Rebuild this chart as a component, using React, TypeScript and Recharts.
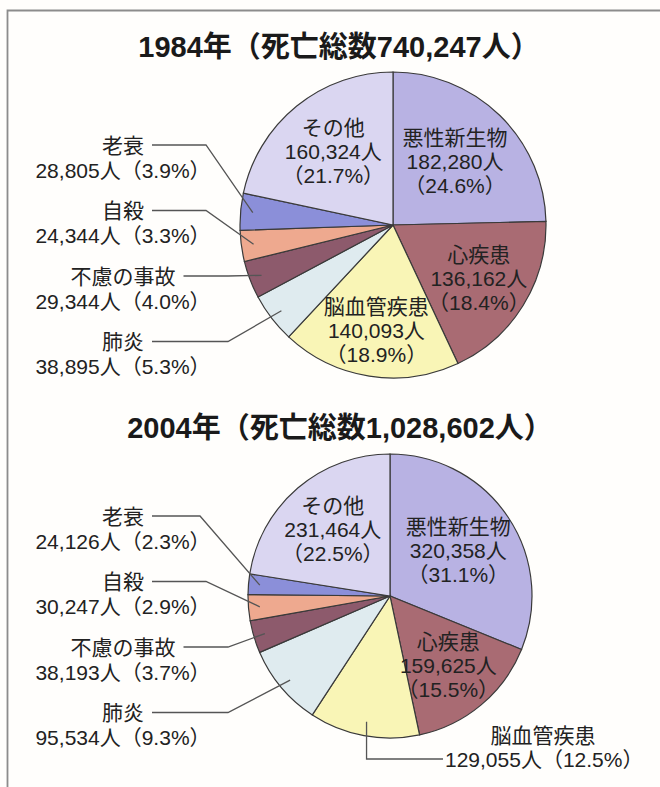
import React from 'react';
import { PieChart, Pie, Cell } from 'recharts';

const causes = ['悪性新生物', '心疾患', '脳血管疾患', '肺炎', '不慮の事故', '自殺', '老衰', 'その他'];
const deaths1984 = [182280, 136162, 140093, 38895, 29344, 24344, 28805, 160324];
const pct1984 = ['24.6', '18.4', '18.9', '5.3', '4.0', '3.3', '3.9', '21.7'];
const deaths2004 = [320358, 159625, 129055, 95534, 38193, 30247, 24126, 231464];
const pct2004 = ['31.1', '15.5', '12.5', '9.3', '3.7', '2.9', '2.3', '22.5'];
const titles = ['1984年（死亡総数740,247人）', '2004年（死亡総数1,028,602人）'];

const colors = ['#b8b2e3', '#a96b73', '#f9f5b6', '#dfebef', '#8d5a6c', '#eea98f', '#8b8fd9', '#dad6f1'];

// label layout per slice: inside (radius fraction) / left column (row) / bottom
type Mode = { kind: 'in'; f: number } | { kind: 'left'; row: number; elbow: number } | { kind: 'bottom' };
const modes1984: Mode[] = [
  { kind: 'in', f: 0.58 },
  { kind: 'in', f: 0.66 },
  { kind: 'in', f: 0.7 },
  { kind: 'left', row: 3, elbow: 228 },
  { kind: 'left', row: 2, elbow: 228 },
  { kind: 'left', row: 1, elbow: 206 },
  { kind: 'left', row: 0, elbow: 206 },
  { kind: 'in', f: 0.62 },
];
const modes2004: Mode[] = [
  { kind: 'in', f: 0.58 },
  { kind: 'in', f: 0.64 },
  { kind: 'bottom' },
  { kind: 'left', row: 3, elbow: 228 },
  { kind: 'left', row: 2, elbow: 228 },
  { kind: 'left', row: 1, elbow: 206 },
  { kind: 'left', row: 0, elbow: 200 },
  { kind: 'in', f: 0.62 },
];

const build = (vals: number[], pcts: string[]) =>
  causes.map((name, i) => ({ name, value: vals[i], pct: pcts[i] }));
const data1984 = build(deaths1984, pct1984);
const data2004 = build(deaths2004, pct2004);

const FONT = '"Liberation Sans", "Noto Sans CJK JP", sans-serif';
const FS = 21;
const RAD = Math.PI / 180;
const polar = (cx: number, cy: number, r: number, a: number) => [
  cx + r * Math.cos(-a * RAD),
  cy + r * Math.sin(-a * RAD),
];
const fmt = (v: number) => v.toLocaleString('en-US');
const LINE = '#555';

const makeLabel = (modes: Mode[]) => (props: any) => {
  const { cx, cy, midAngle, outerRadius, index, payload } = props;
  const m = modes[index];
  const d = payload && payload.name ? payload : props;
  const name = d.name;
  const value = d.value;
  const pct = d.pct;
  const tStyle: any = { fontFamily: FONT, fontSize: FS, fill: '#222' };
  if (m.kind === 'in') {
    const [x, y] = polar(cx, cy, outerRadius * m.f, midAngle);
    return (
      <g>
        <text x={x} y={y - 24} textAnchor="middle" dominantBaseline="central" style={tStyle}>{name}</text>
        <text x={x} y={y} textAnchor="middle" dominantBaseline="central" style={tStyle}>{fmt(value)}人</text>
        <text x={x} y={y + 24} textAnchor="middle" dominantBaseline="central" style={tStyle}>（{pct}%）</text>
      </g>
    );
  }
  if (m.kind === 'left') {
    const colX = 123;
    const ny = cy - 80 + 65.5 * m.row;
    const [ax, ay] = polar(cx, cy, outerRadius * 0.92, midAngle);
    const sx = colX + (name.length * FS) / 2 + 8;
    const ex = Math.min(m.elbow, ax);
    return (
      <g>
        <text x={colX} y={ny} textAnchor="middle" dominantBaseline="central" style={tStyle}>{name}</text>
        <text x={colX} y={ny + 25} textAnchor="middle" dominantBaseline="central" style={tStyle}>{fmt(value)}人（{pct}%）</text>
        <polyline points={`${sx},${ny} ${ex},${ny} ${ax},${ay}`} fill="none" stroke={LINE} strokeWidth={1.3} />
      </g>
    );
  }
  const [ax, ay] = polar(cx, cy, outerRadius * 0.9, midAngle);
  const vy = cy + 163;
  return (
    <g>
      <polyline points={`${ax},${ay} ${ax},${vy} ${cx + 53},${vy}`} fill="none" stroke={LINE} strokeWidth={1.3} />
      <text x={cx + 153} y={cy + 139} textAnchor="middle" dominantBaseline="central" style={tStyle}>{name}</text>
      <text x={cx + 55} y={vy} textAnchor="start" dominantBaseline="central" style={tStyle}>{fmt(value)}人（{pct}%）</text>
    </g>
  );
};

export default function App() {
  const titleStyle: any = { fontFamily: FONT, fontSize: 29, fontWeight: 700, fill: '#1a1a1a' };
  return (
    <div style={{ position: 'absolute', left: 0, top: 0, width: 660, height: 787, background: '#fffefc', overflow: 'hidden' }}>
      <svg width={660} height={787} style={{ position: 'absolute', left: 0, top: 0 }}>
        <polyline points="7.5,787 7.5,10.5 660,10.5" fill="none" stroke="#8c8c8c" strokeWidth={1.8} />
        <text x={339} y={47} textAnchor="middle" dominantBaseline="central" style={titleStyle}>{titles[0]}</text>
        <text x={340} y={428} textAnchor="middle" dominantBaseline="central" style={titleStyle}>{titles[1]}</text>
      </svg>
      <div style={{ position: 'absolute', left: 0, top: 0 }}>
        <PieChart width={660} height={787} margin={{ top: 0, right: 0, bottom: 0, left: 0 }}>
          <Pie
            data={data1984}
            dataKey="value"
            nameKey="name"
            cx={393}
            cy={225}
            outerRadius={153}
            startAngle={90}
            endAngle={-270}
            stroke="#3a3a3a"
            strokeWidth={1.2}
            isAnimationActive={false}
            label={makeLabel(modes1984)}
            labelLine={false}
          >
            {data1984.map((d, i) => (
              <Cell key={d.name} fill={colors[i]} />
            ))}
          </Pie>
          <Pie
            data={data2004}
            dataKey="value"
            nameKey="name"
            cx={390}
            cy={596}
            outerRadius={142}
            startAngle={90}
            endAngle={-270}
            stroke="#3a3a3a"
            strokeWidth={1.2}
            isAnimationActive={false}
            label={makeLabel(modes2004)}
            labelLine={false}
          >
            {data2004.map((d, i) => (
              <Cell key={d.name} fill={colors[i]} />
            ))}
          </Pie>
        </PieChart>
      </div>
    </div>
  );
}
